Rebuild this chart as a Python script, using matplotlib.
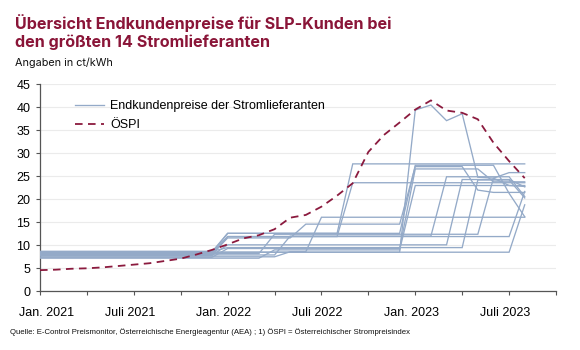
import matplotlib
matplotlib.use("Agg")
import matplotlib.pyplot as plt
import matplotlib.transforms as mtransforms

# Months from Jan 2021 (index 0) to Aug 2023 (index 31)
months = list(range(32))
tick_positions = [0, 3, 6, 9, 12, 15, 18, 21, 24, 27, 30, 33]
tick_labels = ["Jan. 2021", "", "Juli 2021", "", "Jan. 2022", "", "Juli 2022", "",
               "Jan. 2023", "", "Juli 2023", ""]
y_ticks = [0, 5, 10, 15, 20, 25, 30, 35, 40, 45]

# Endkundenpreise der 14 grössten Stromlieferanten (ct/kWh)
s01 = [8.6, 8.6, 8.6, 8.6, 8.6, 8.6, 8.6, 8.6, 8.6, 8.6, 8.6, 8.6,
       12.6, 12.6, 12.6, 12.6, 12.6, 12.6, 12.6, 12.6,
       27.7, 27.7, 27.7, 27.7, 27.7, 27.7, 27.7, 27.7, 27.7, 27.7, 27.7, 27.7]
s02 = [8.3, 8.3, 8.3, 8.3, 8.3, 8.3, 8.3, 8.3, 8.3, 8.3, 8.3, 8.3,
       11.9, 11.9, 11.9, 11.9, 11.9, 11.9, 11.9, 11.9,
       23.6, 23.6, 23.6, 23.6, 23.6, 23.6, 23.6, 23.6, 23.6, 23.6, 23.6, 23.6]
s03 = [8.5, 8.5, 8.5, 8.5, 8.5, 8.5, 8.5, 8.5, 8.5, 8.5, 8.5, 8.5,
       8.5, 8.5, 8.5, 8.5, 8.5, 8.5, 8.5, 8.5, 8.5, 8.5, 8.5, 8.5,
       39.4, 40.5, 37.1, 38.6, 24.8, 24.6, 23.0, 22.8]
s04 = [8.4, 8.4, 8.4, 8.4, 8.4, 8.4, 8.4, 8.4, 8.4, 8.4, 8.4, 8.4,
       12.6, 12.6, 12.6, 12.6, 12.6, 12.6, 12.6, 12.6, 12.6, 12.6, 12.6, 12.6,
       27.4, 27.4, 27.4, 27.4, 27.4, 27.4, 21.3, 16.2]
s05 = [8.0, 8.0, 8.0, 8.0, 8.0, 8.0, 8.0, 8.0, 8.0, 8.0, 8.0, 8.0,
       11.6, 11.6, 11.6, 11.6, 11.6,
       14.6, 14.6, 14.6, 14.6, 14.6, 14.6, 14.6,
       27.1, 27.1, 27.1, 27.1, 22.0, 21.5, 21.5, 21.5]
s06 = [7.5, 7.5, 7.5, 7.5, 7.5, 7.5, 7.5, 7.5, 7.5, 7.5, 7.5, 7.5, 7.5, 7.5, 7.5, 7.5,
       8.6, 8.6,
       16.1, 16.1, 16.1, 16.1, 16.1, 16.1, 16.1, 16.1, 16.1, 16.1, 16.1, 16.1, 16.1, 16.1]
s07 = [7.8, 7.8, 7.8, 7.8, 7.8, 7.8, 7.8, 7.8, 7.8, 7.8, 7.8, 7.8,
       10.1, 10.1, 10.1, 10.1, 10.1, 10.1, 10.1, 10.1, 10.1, 10.1, 10.1, 10.1, 10.1, 10.1, 10.1,
       24.3, 24.3, 24.3, 24.3, 22.7]
s08 = [8.2, 8.2, 8.2, 8.2, 8.2, 8.2, 8.2, 8.2, 8.2, 8.2, 8.2, 8.2, 8.2, 8.2, 8.2,
       12.4, 12.4, 12.4, 12.4, 12.4, 12.4, 12.4, 12.4, 12.4, 12.4, 12.4, 12.4, 12.4, 12.4,
       24.6, 25.8, 25.8]
s09 = [7.9, 7.9, 7.9, 7.9, 7.9, 7.9, 7.9, 7.9, 7.9, 7.9, 7.9, 7.9, 7.9, 7.9, 7.9, 7.9,
       12.0, 12.0, 12.0, 12.0, 12.0, 12.0, 12.0, 12.0, 12.0, 12.0,
       24.9, 24.9, 24.9, 24.9, 24.9, 20.6]
s10 = [8.0, 8.0, 8.0, 8.0, 8.0, 8.0, 8.0, 8.0, 8.0, 8.0, 8.0, 8.0,
       11.9, 11.9, 11.9, 11.9, 11.9, 11.9, 11.9, 11.9, 11.9, 11.9, 11.9, 11.9, 11.9, 11.9,
       11.9, 11.9, 11.9, 11.9, 11.9, 21.7]
s11 = [8.5, 8.5, 8.5, 8.5, 8.5, 8.5, 8.5, 8.5, 8.5, 8.5, 8.5, 8.5, 8.5, 8.5, 8.5, 8.5,
       8.5, 8.5, 8.5, 8.5, 8.5, 8.5, 8.5, 8.5, 8.5, 8.5, 8.5, 8.5, 8.5, 8.5, 8.5, 18.8]
s12 = [7.4, 7.4, 7.4, 7.4, 7.4, 7.4, 7.4, 7.4, 7.4, 7.4, 7.4, 7.4,
       9.3, 9.3, 9.3, 9.3, 9.3, 9.3, 9.3, 9.3, 9.3, 9.3, 9.3, 9.3,
       26.6, 26.6, 26.6, 26.6, 26.6, 23.8, 23.8, 23.8]
s13 = [7.2, 7.2, 7.2, 7.2, 7.2, 7.2, 7.2, 7.2, 7.2, 7.2, 7.2, 7.2, 7.2, 7.2, 7.2,
       9.0, 9.0, 9.0, 9.0, 9.0, 9.0, 9.0, 9.0, 9.0,
       23.0, 23.0, 23.0, 23.0, 23.0, 23.0, 23.0, 23.0]
s14 = [8.7, 8.7, 8.7, 8.7, 8.7, 8.7, 8.7, 8.7, 8.7, 8.7, 8.7, 8.7,
       9.5, 9.5, 9.5, 9.5, 9.5, 9.5, 9.5, 9.5, 9.5, 9.5, 9.5, 9.5, 9.5, 9.5, 9.5, 9.5,
       24.2, 24.2, 24.2, 20.3]
suppliers = [s01, s02, s03, s04, s05, s06, s07, s08, s09, s10, s11, s12, s13, s14]

# ÖSPI (Österreichischer Strompreisindex)
ospi = [4.6, 4.7, 4.9, 5.0, 5.2, 5.5, 5.8, 6.1, 6.6, 7.1, 8.0, 9.0,
        10.2, 11.5, 12.2, 13.5, 16.0, 16.6, 18.4, 20.8, 23.5, 30.3,
        34.0, 36.7, 39.5, 41.5, 39.3, 38.8, 37.4, 32.3, 28.3, 24.6]

BLUE = "#94aac8"
RED = "#8b1a3e"
TITLE = "#8a1538"

fig = plt.figure(figsize=(5.8, 3.5), dpi=100)
fig.patch.set_facecolor("white")
W, H = 580, 350
ax = fig.add_axes([40 / W, 1 - 291.3 / H, (556 - 40) / W, (291.3 - 84.3) / H])

for i, s in enumerate(suppliers):
    ax.plot(months, s, color=BLUE, lw=0.95, solid_joinstyle="miter",
            label="Endkundenpreise der Stromlieferanten" if i == 0 else None, zorder=3)
ax.plot(months, ospi, color=RED, lw=1.3, dashes=(4.2, 3.0), label="ÖSPI", zorder=4)

ax.set_xlim(0, 33)
ax.set_ylim(0, 45)
ax.set_xticks(tick_positions)
ax.set_xticklabels(tick_labels, fontfamily="Liberation Sans", fontsize=9)
ax.set_yticks(y_ticks)
ax.set_yticklabels([str(v) for v in y_ticks], fontfamily="Liberation Sans", fontsize=9)
ax.tick_params(axis="x", length=3, width=0.8, color="#555555", pad=8)
ax.tick_params(axis="y", length=3, width=0.8, color="#555555", pad=4)
for sp in ["top", "right"]:
    ax.spines[sp].set_visible(False)
for sp in ["left", "bottom"]:
    ax.spines[sp].set_color("#555555")
    ax.spines[sp].set_linewidth(0.9)
ax.yaxis.grid(True, color="#ebebeb", lw=0.8)
ax.set_axisbelow(True)

# small horizontal shifts of the x tick labels as in the reference
for j, lab in enumerate(ax.get_xticklabels()):
    dx = 7 if j == 0 else -4
    lab.set_transform(lab.get_transform() +
                      mtransforms.ScaledTranslation(dx / 100, 0, fig.dpi_scale_trans))

leg = fig.legend(loc="upper left", bbox_to_anchor=(75 / W, 1 - 100 / H),
                 frameon=False, prop={"family": "Liberation Sans", "size": 9},
                 handlelength=2.35, handletextpad=0.45, labelspacing=0.55,
                 borderpad=0, borderaxespad=0)

fig.text(15 / W, 1 - 28.5 / H, "Übersicht Endkundenpreise für SLP-Kunden bei",
         fontfamily=["Inter", "DejaVu Sans"], fontweight="bold", fontsize=11.6,
         color=TITLE, va="baseline", ha="left")
fig.text(15 / W, 1 - 46.5 / H, "den größten 14 Stromlieferanten",
         fontfamily=["Inter", "DejaVu Sans"], fontweight="bold", fontsize=11.6,
         color=TITLE, va="baseline", ha="left")
fig.text(15 / W, 1 - 66.5 / H, "Angaben in ct/kWh",
         fontfamily=["Inter", "DejaVu Sans"], fontsize=7.8, color="#111111",
         va="baseline", ha="left")
fig.text(10 / W, 1 - 332 / H,
         "Quelle: E-Control Preismonitor, Österreichische Energieagentur (AEA) ; 1) ÖSPI = Österreichischer Strompreisindex",
         fontfamily="Liberation Sans", fontsize=5.6, color="#111111",
         va="center", ha="left")

fig.savefig("out.png", dpi=100, facecolor="white")
